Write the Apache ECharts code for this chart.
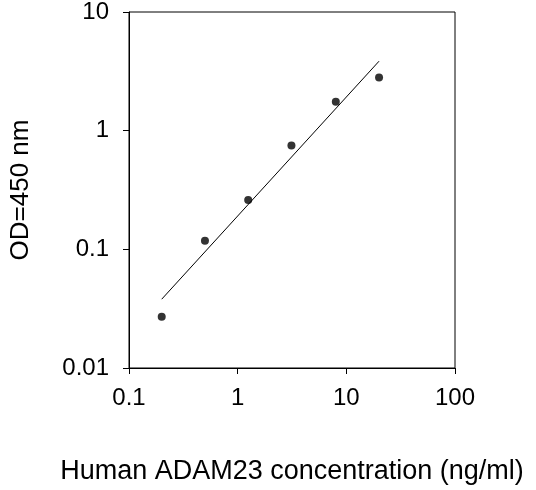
<!DOCTYPE html>
<html><head><meta charset="utf-8">
<script src="https://cdn.jsdelivr.net/npm/echarts@6/dist/echarts.min.js"></script>
<style>html,body{margin:0;padding:0;background:#fff}#c{width:536px;height:490px}</style>
</head><body><div id="c"></div>
<script>
const concentrations = [0.2, 0.5, 1.25, 3.125, 8, 20];
const odValues = [0.027, 0.118, 0.26, 0.75, 1.75, 2.8];
const fitX = [0.2, 20];
const fitY = [0.038, 3.85];
const xTitle = 'Human ADAM23 concentration (ng/ml)';
const yTitle = 'OD=450 nm';
const fmt = v => String(+v.toPrecision(3));
const chart = echarts.init(document.getElementById('c'));
chart.setOption({
  animation:false,
  grid:{left:111,right:81,top:12,bottom:112,show:true,borderColor:'#000',borderWidth:1},
  xAxis:{type:'log',logBase:10,min:0.1,max:100,
    name:xTitle,nameLocation:'middle',nameGap:90,
    nameTextStyle:{fontFamily:'Liberation Sans',fontSize:27,color:'#000'},
    axisLine:{lineStyle:{color:'#000'}},axisTick:{inside:false,length:6,lineStyle:{color:'#000'}},
    minorTick:{show:false},splitLine:{show:false},
    axisLabel:{formatter:fmt,fontFamily:'Liberation Sans',fontSize:24,color:'#000',margin:18}},
  yAxis:{type:'log',logBase:10,min:0.01,max:10,
    name:yTitle,nameLocation:'middle',nameGap:95,nameRotate:90,
    nameTextStyle:{fontFamily:'Liberation Sans',fontSize:26,color:'#000'},
    axisLine:{lineStyle:{color:'#000'}},axisTick:{inside:false,length:6,lineStyle:{color:'#000'}},
    splitLine:{show:false},
    axisLabel:{formatter:fmt,fontFamily:'Liberation Sans',fontSize:24,color:'#000',margin:20}},
  series:[
    {type:'line',data:fitX.map((x,i)=>[x,fitY[i]]),symbol:'none',lineStyle:{color:'#000',width:1}},
    {type:'scatter',data:concentrations.map((x,i)=>[x,odValues[i]]),symbolSize:8,itemStyle:{color:'#000'}}
  ]
});
</script></body></html>
